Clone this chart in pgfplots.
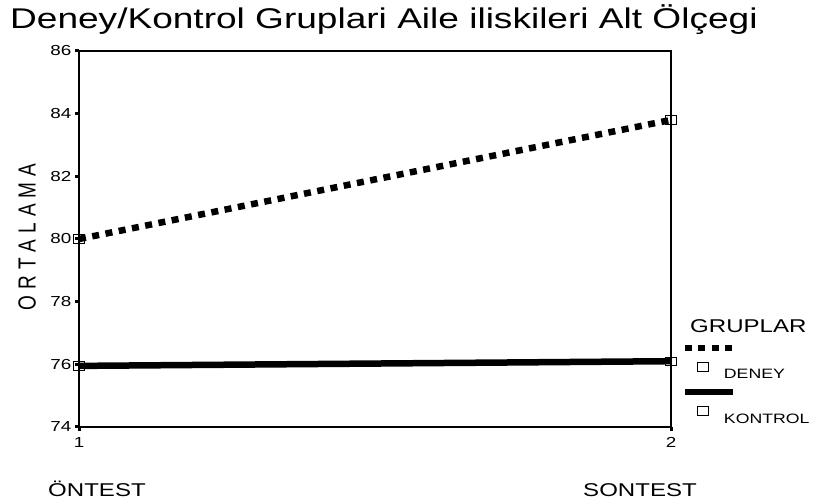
\documentclass[border=0pt]{standalone}
\usepackage{fontspec}
\setmainfont{Liberation Sans}[FakeStretch=1.3]
\newfontfamily\plainsans{Liberation Sans}
\usepackage{graphicx}
\usepackage{pgfplots}
\pgfplotsset{compat=1.18}
\begin{document}
\begin{tikzpicture}
\useasboundingbox (0,0) rectangle (816pt,503pt);
\begin{axis}[
  at={(79pt,76pt)}, anchor=south west,
  width=592pt, height=376pt, scale only axis,
  xmin=1, xmax=2, ymin=74, ymax=86,
  xtick={1,2}, ytick={74,76,...,86},
  xtick pos=bottom, ytick pos=left,
  tick align=outside, major tick length=4pt,
  every tick/.style={black, line width=3pt},
  axis line style={line width=1.6pt},
  ticklabel style={font=\fontsize{14.5}{16}\selectfont},
  xticklabel style={yshift=-3pt},
  /pgf/number format/assume math mode=true,
  clip=false,
  legend cell align=left,
  legend style={at={(1.0236,0.1968)}, anchor=north west, draw=none, fill=none,
    inner sep=0pt, outer sep=0pt, row sep=0pt, column sep=0pt,
    nodes={inner sep=1pt, font=\fontsize{13.6}{15}\selectfont}},
  legend image code/.code={
    \path[draw=none, fill=none] (0pt,-22pt) rectangle (38pt,22pt);
    \draw[#1, mark=none, overlay] (0pt,27pt) -- (48pt,27pt);
    \draw[#1, only marks] plot coordinates {(18pt,8pt)};
  },
]
\addplot[black, line width=6.5pt, dash pattern=on 7pt off 6.5pt,
  mark=square, mark size=4.2pt, mark options={solid, line width=0.8pt, xscale=1.35, fill=none}]
  coordinates {(1,80.0) (2,83.8)};
\addlegendentry{DENEY}
\addplot[black, line width=6.5pt,
  mark=square, mark size=4.2pt, mark options={solid, line width=0.8pt, xscale=1.35, fill=none}]
  coordinates {(1,75.95) (2,76.1)};
\addlegendentry{KONTROL}
\end{axis}
\node[anchor=base west, inner sep=0pt, font=\fontsize{28.5}{31}\selectfont] at (10pt,474pt)
  {Deney/Kontrol Gruplari Aile iliskileri Alt Ölçegi};
\node[rotate=90, inner sep=0pt] at (27pt,266pt)
  {\scalebox{1}[1.3]{\plainsans\fontsize{19}{21}\selectfont O\hspace{6pt}R\hspace{6pt}T\hspace{6pt}A\hspace{6pt}L\hspace{6pt}A\hspace{6pt}M\hspace{6pt}A}};
\node[anchor=base west, inner sep=0pt, font=\fontsize{18.5}{20}\selectfont] at (48pt,6pt) {ÖNTEST};
\node[anchor=base west, inner sep=0pt, font=\fontsize{18.5}{20}\selectfont] at (583pt,6pt) {SONTEST};
\node[anchor=base west, inner sep=0pt, font=\fontsize{18.5}{20}\selectfont] at (690pt,170pt) {GRUPLAR};
\end{tikzpicture}
\end{document}
